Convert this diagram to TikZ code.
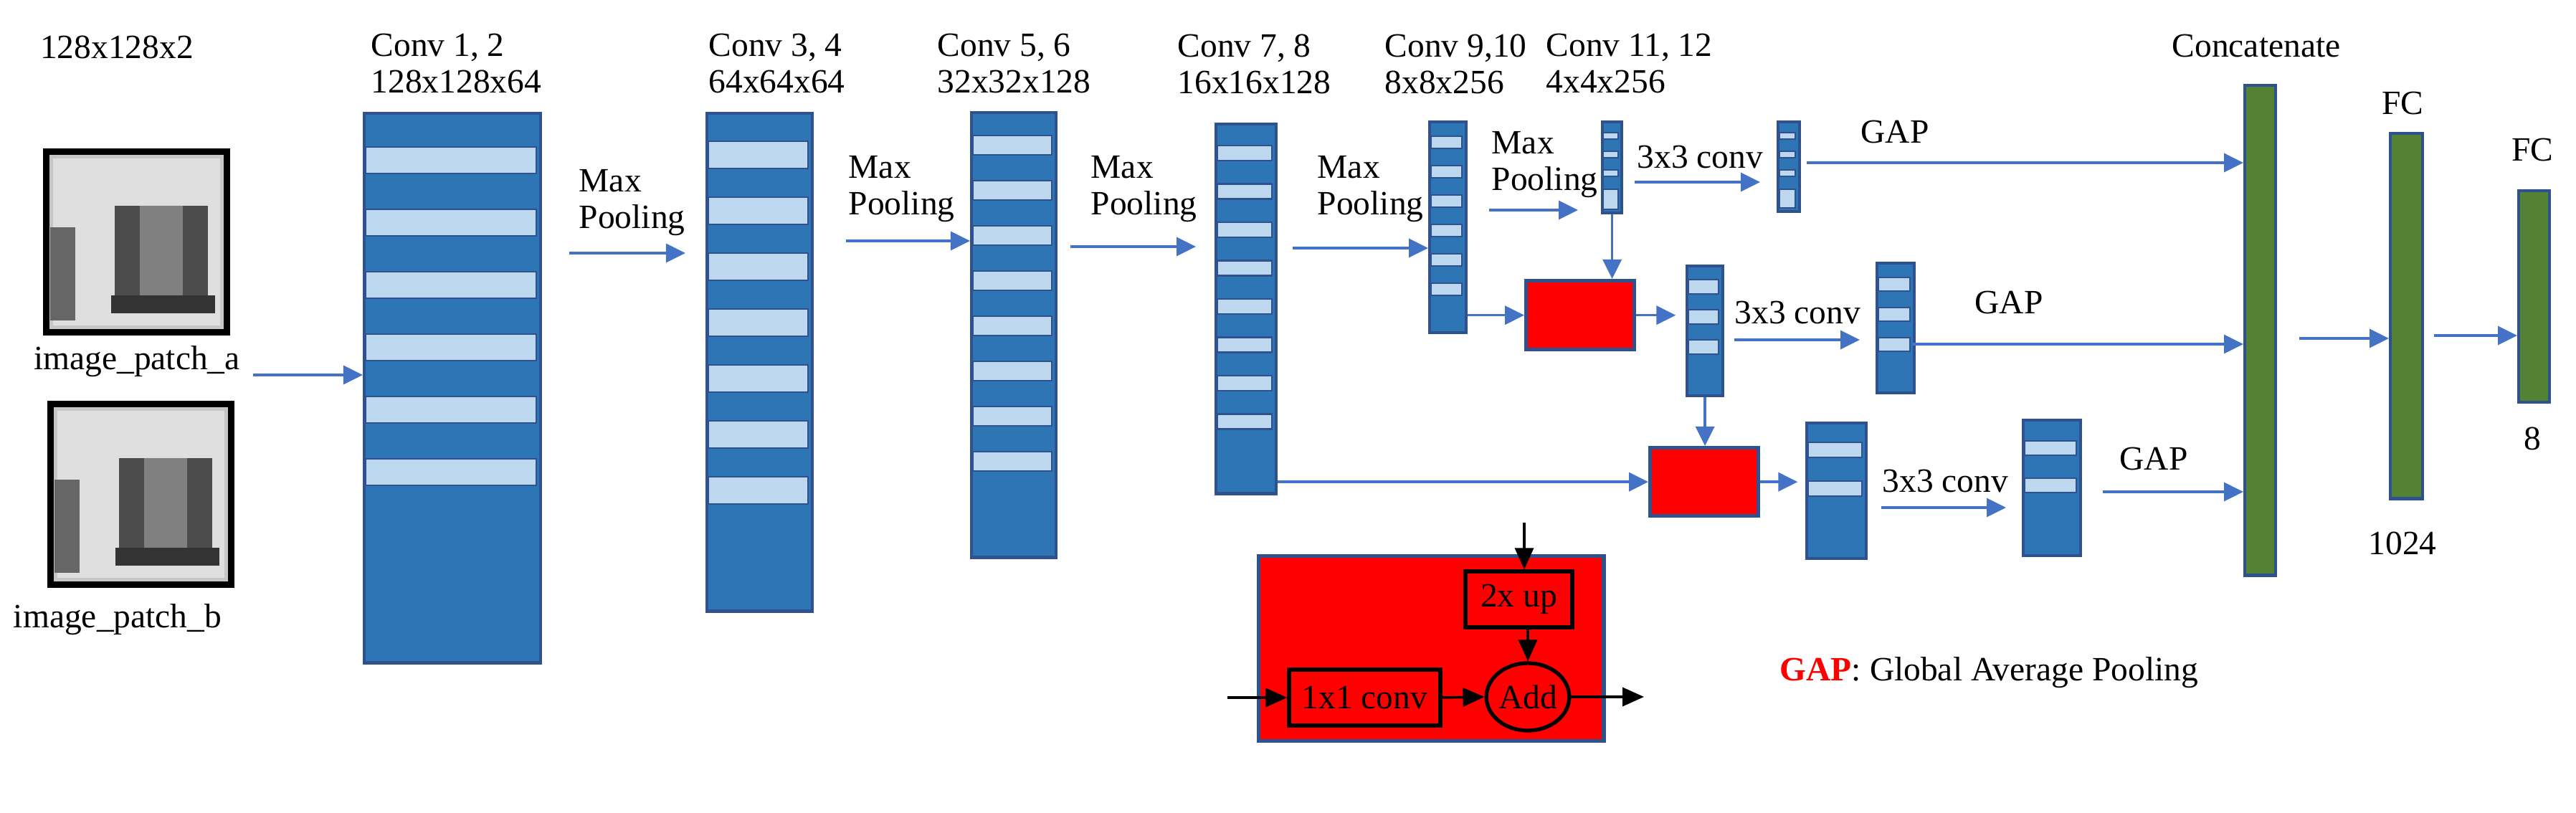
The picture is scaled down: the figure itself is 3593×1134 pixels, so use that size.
\documentclass[tikz,border=0pt]{standalone}
\usepackage{fontspec}
\IfFontExistsTF{Liberation Serif}{\setmainfont{Liberation Serif}}{\setmainfont{DejaVu Serif}}
\usetikzlibrary{positioning, arrows.meta, shapes.geometric}
\definecolor{conv-dark}{RGB}{46,117,182}
\definecolor{conv-light}{RGB}{189,215,238}
\definecolor{conv-edge}{RGB}{47,82,143}
\definecolor{fc-green}{RGB}{84,130,53}
\definecolor{arr-blue}{RGB}{68,114,196}
\tikzset{every picture/.style={line width=1pt}}
% light stripes of a layer: x centre, width, first top, step, height, count
\newcommand{\stripes}[6]{%
  \foreach \i in {1,...,#6}
    \draw[conv-edge, fill=conv-light, line width=0.8pt]
      ({#1-#2/2}, {#3+(\i-1)*#4}) rectangle ++(#2, #5);}

\begin{document}
\begin{tikzpicture}
    [x=0.01cm, y=-0.01cm,
    layer/.style = {rectangle, draw=conv-edge, fill=conv-dark, line width=1.2pt,
            inner sep=0pt, anchor=north west},
    fc/.style = {rectangle, draw=conv-edge, fill=fc-green, line width=1.2pt,
            inner sep=0pt, anchor=north west},
    merge/.style = {rectangle, draw=conv-edge, fill=red, line width=1.5pt,
            inner sep=0pt, anchor=north west},
    patch/.style = {rectangle, draw=black, fill=gray!45, line width=2.5pt,
            inner sep=0pt, anchor=north west, minimum width=2.52cm, minimum height=2.52cm},
    lbl/.style = {align=left, anchor=west, inner sep=0pt,
            font=\rmfamily\fontsize{13.5}{14.5}\selectfont},
    txt/.style = {inner sep=0pt, font=\rmfamily\fontsize{13.5}{14.5}\selectfont},
    flow/.style = {arr-blue, line width=1pt, -{Triangle[length=2.7mm, width=2.6mm]}},
    blk/.style = {black, line width=1pt, -{Triangle[length=3mm, width=2.6mm]}},
    ]
    \useasboundingbox (0,0) rectangle (3593,1134);

    % inputs
    \node[txt] (in-size) at (163,66) {128x128x2};
    \node[patch] (patch-a) at (60,207) {};
    \node[patch] (patch-b) at (66,559) {};
    \foreach \p in {patch-a, patch-b} {
      \fill[gray!25] ([shift={(4pt,-4pt)}]\p.north west) rectangle ([shift={(-4pt,4pt)}]\p.south east);
      \fill[black!70] ([shift={(1.0cm,-0.8cm)}]\p.north west) rectangle ++(35,145);
      \fill[black!70] ([shift={(1.95cm,-0.8cm)}]\p.north west) rectangle ++(35,145);
      \fill[black!50] ([shift={(1.35cm,-0.8cm)}]\p.north west) rectangle ++(60,130);
      \fill[black!60] ([shift={(0.1cm,-1.1cm)}]\p.north west) rectangle ++(35,130);
      \fill[black!80] ([shift={(0.95cm,-2.05cm)}]\p.north west) rectangle ++(145,25);
    }
    \node[txt] (name-a) at (191,504) {image\_patch\_a};
    \node[txt] (name-b) at (164,864) {image\_patch\_b};

    % encoder
    \node[layer, minimum width=2.46cm, minimum height=7.66cm] (conv12) at (506,156) {};
    \stripes{629}{238}{205}{87}{37}{6}
    \node[layer, minimum width=1.47cm, minimum height=6.94cm] (conv34) at (984,156) {};
    \stripes{1057.5}{139}{197}{78}{38}{7}
    \node[layer, minimum width=1.18cm, minimum height=6.2cm] (conv56) at (1353,155) {};
    \stripes{1412}{110}{189}{63}{27}{8}
    \node[layer, minimum width=0.84cm, minimum height=5.15cm] (conv78) at (1694,171) {};
    \stripes{1736}{76}{203}{53.5}{21}{8}
    \node[layer, minimum width=0.51cm, minimum height=2.94cm] (conv910) at (1992,168) {};
    \stripes{2017.5}{43}{190}{41}{17}{6}
    \node[layer, minimum width=0.27cm, minimum height=1.27cm] (conv1112) at (2233,168) {};
    \stripes{2246.5}{21}{185}{26}{9}{3}
    \draw[conv-edge, fill=conv-light, line width=0.8pt] (2236,264) rectangle (2257,292);

    \node[lbl] (lbl12) at (516,89) {Conv 1, 2\\128x128x64};
    \node[lbl] (lbl34) at (987,89) {Conv 3, 4\\64x64x64};
    \node[lbl] (lbl56) at (1306,89) {Conv 5, 6\\32x32x128};
    \node[lbl] (lbl78) at (1641,89) {Conv 7, 8\\16x16x128};
    \node[lbl] (lbl910) at (1930,89) {Conv 9,10\\8x8x256};
    \node[lbl] (lbl1112) at (2155,89) {Conv 11, 12\\4x4x256};

    \node[lbl] (mp1) at (806,283) {Max\\Pooling};
    \node[lbl] (mp2) at (1182,264) {Max\\Pooling};
    \node[lbl] (mp3) at (1520,264) {Max\\Pooling};
    \node[lbl] (mp4) at (1836,264) {Max\\Pooling};
    \node[lbl] (mp5) at (2079,230) {Max\\Pooling};

    \coordinate (a0) at (353,523);
    \draw[flow] (a0) -- (conv12.west |- a0);
    \coordinate (a1) at (794,353);
    \draw[flow] (a1) -- ++(162,0);
    \coordinate (a2) at (1180,336);
    \draw[flow] (a2) -- (conv56.west |- a2);
    \coordinate (a3) at (1493,344);
    \draw[flow] (a3) -- ++(175,0);
    \coordinate (a4) at (1803,346);
    \draw[flow] (a4) -- (conv910.west |- a4);
    \coordinate (a5) at (2077,293);
    \draw[flow] (a5) -- ++(124,0);

    % top branch
    \node[layer, minimum width=0.3cm, minimum height=1.25cm] (top-out) at (2478,168) {};
    \stripes{2493}{22}{185}{26}{9}{3}
    \draw[conv-edge, fill=conv-light, line width=0.8pt] (2482,264) rectangle (2504,290);
    \node[txt, anchor=west] (c3-top) at (2282,219) {3x3 conv};
    \coordinate (b1) at (2280,254);
    \draw[flow] (b1) -- ++(175,0);

    % middle branch
    \node[merge, minimum width=1.51cm, minimum height=0.96cm] (up1) at (2126,389) {};
    \node[layer, minimum width=0.5cm, minimum height=1.81cm] (mid-in) at (2351,369) {};
    \stripes{2376}{42}{390}{42}{20}{3}
    \node[layer, minimum width=0.52cm, minimum height=1.81cm] (mid-out) at (2616,365) {};
    \stripes{2642}{44}{387}{42}{19}{3}
    \node[txt, anchor=west] (c3-mid) at (2418,436) {3x3 conv};
    \draw[flow] (conv910.east |- up1.west) -- (up1.west);
    \draw[flow] (conv1112.south) -- (up1.north -| conv1112.south);
    \draw[flow] (up1.east) -- ++(55,0);
    \coordinate (b2) at (2419,474);
    \draw[flow] (b2) -- ++(175,0);

    % bottom branch
    \node[merge, minimum width=1.51cm, minimum height=0.95cm] (up2) at (2299,622) {};
    \node[layer, minimum width=0.83cm, minimum height=1.89cm] (bot-in) at (2518,588) {};
    \stripes{2559.5}{75}{617}{54}{21}{2}
    \node[layer, minimum width=0.8cm, minimum height=1.89cm] (bot-out) at (2820,584) {};
    \stripes{2860}{72}{615}{52}{20}{2}
    \node[txt, anchor=west] (c3-bot) at (2624,671) {3x3 conv};
    \draw[flow] (conv78.east |- up2.west) -- (up2.west);
    \draw[flow] (mid-in.south) -- (up2.north -| mid-in.south);
    \draw[flow] (up2.east) -- ++(52,0);
    \coordinate (b3) at (2624,708);
    \draw[flow] (b3) -- ++(174,0);

    % head
    \node[fc, minimum width=0.43cm, minimum height=6.83cm] (concat) at (3129,117) {};
    \node[fc, minimum width=0.45cm, minimum height=5.09cm] (fc1) at (3332,184) {};
    \node[fc, minimum width=0.43cm, minimum height=2.95cm] (fc2) at (3511,264) {};
    \node[txt] (concat-lbl) at (3147,64) {Concatenate};
    \node[txt] (fc1-lbl) at (3351,144) {FC};
    \node[txt] (fc1-dim) at (3351,758) {1024};
    \node[txt] (fc2-lbl) at (3532,209) {FC};
    \node[txt] (fc2-dim) at (3532,612) {8};

    \node[txt] (gap1) at (2643,184) {GAP};
    \node[txt] (gap2) at (2802,422) {GAP};
    \node[txt] (gap3) at (3004,640) {GAP};
    \coordinate (g1) at (2520,227);
    \draw[flow] (g1) -- (concat.west |- g1);
    \coordinate (g2) at (2668,480);
    \draw[flow] (g2) -- (concat.west |- g2);
    \coordinate (g3) at (2933,686);
    \draw[flow] (g3) -- (concat.west |- g3);
    \coordinate (h1) at (3207,472);
    \draw[flow] (h1) -- (fc1.west |- h1);
    \coordinate (h2) at (3395,468);
    \draw[flow] (h2) -- (fc2.west |- h2);

    % merge block detail
    \node[merge, minimum width=4.81cm, minimum height=2.58cm] (detail) at (1753,773) {};
    \node[draw=black, line width=1.5pt, fill=red, minimum width=1.49cm, minimum height=0.78cm,
          inner sep=0pt, txt] (upx2) at (2118.5,836) {2x up};
    \node[draw=black, line width=1.5pt, fill=red, minimum width=2.11cm, minimum height=0.78cm,
          inner sep=0pt, txt] (conv1x1) at (1903.5,973) {1x1 conv};
    \node[ellipse, draw=black, line width=1.5pt, fill=red, minimum width=1.1cm, minimum height=0.94cm,
          inner sep=0pt, txt] (add) at (2131,972) {Add};
    \coordinate (d-top) at (2126,729);
    \coordinate (d-in) at (1712,973);
    \coordinate (d-out) at (2293,972);
    \draw[blk] (d-top) -- (upx2.north -| d-top);
    \draw[blk] (upx2.south -| add.north) -- (add.north);
    \draw[blk] (d-in) -- (conv1x1.west);
    \draw[blk] (conv1x1.east) -- (add.west);
    \draw[blk] (add.east) -- (d-out);

    \node[txt, anchor=west] (legend) at (2481,938) {\textcolor{red}{\textbf{GAP}}: Global Average Pooling};
\end{tikzpicture}
\end{document}
